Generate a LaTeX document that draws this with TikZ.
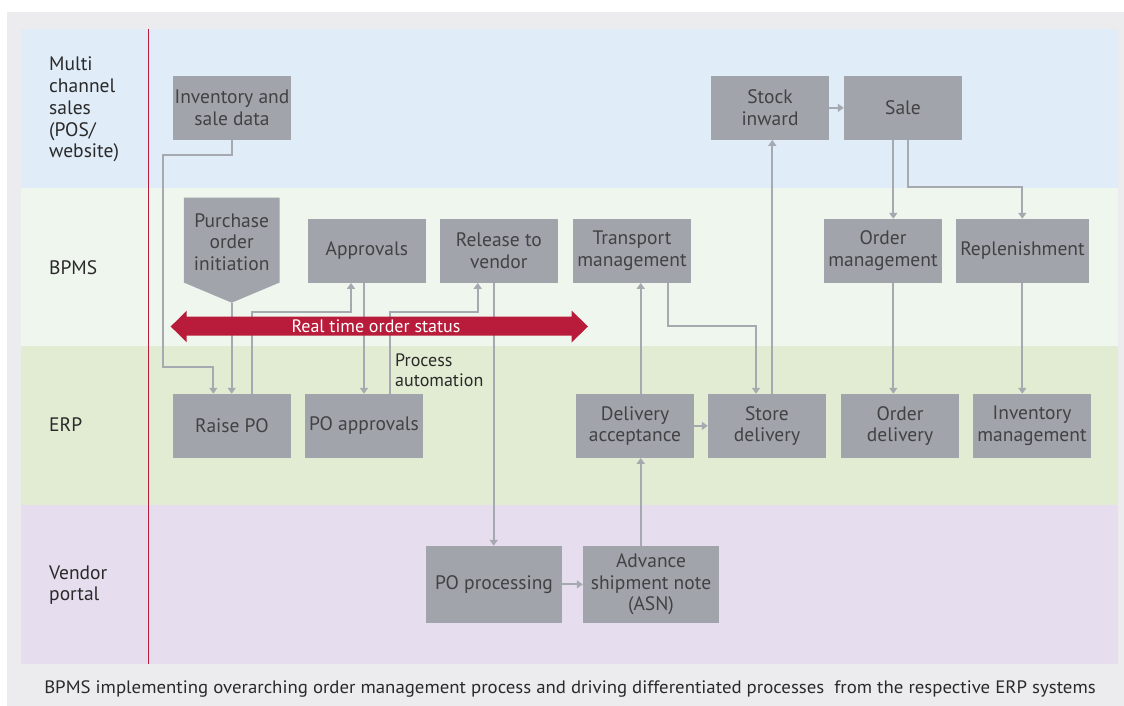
\documentclass[tikz,border=0pt]{standalone}
\usepackage{fontspec}
\setmainfont{PT Sans}
\usetikzlibrary{arrows.meta}
\definecolor{outergray}{HTML}{ECECEE}
\definecolor{laneblue}{HTML}{E0ECF8}
\definecolor{lanebpms}{HTML}{EFF6EE}
\definecolor{laneerp}{HTML}{E2ECD2}
\definecolor{lanevendor}{HTML}{E6DEEE}
\definecolor{boxgray}{HTML}{A1A4AA}
\definecolor{boxtext}{HTML}{424244}
\definecolor{conncol}{HTML}{A6A9AF}
\definecolor{redcol}{HTML}{B81C3A}
\definecolor{labeltext}{HTML}{2A2A2A}
\tikzset{
  procbox/.style={fill=boxgray, text=boxtext, inner sep=0pt, align=center,
    minimum width=118pt, minimum height=63.7pt,
    font=\fontsize{19.5}{21.5}\selectfont},
  conn/.style={draw=conncol, line width=1.8pt,
    -{Triangle[width=8pt,length=6pt]}},
  lanelabel/.style={anchor=west, align=left, text=labeltext, inner sep=0pt,
    font=\fontsize{19.5}{21.75}\selectfont},
}
\begin{document}
\begin{tikzpicture}[x=1pt,y=-1pt]
\useasboundingbox (0,0) rectangle (1124,706);
\fill[white] (0,0) rectangle (1124,706);
\fill[outergray] (7,12) rectangle (1124,706);
\fill[laneblue] (21,29) rectangle (1118,188);
\fill[lanebpms] (21,188) rectangle (1118,346);
\fill[laneerp] (21,346) rectangle (1118,505);
\fill[lanevendor] (21,505) rectangle (1118,664);
\draw[redcol, line width=1pt] (148.7,29) -- (148.7,664);

% lane labels
\node[lanelabel] (lmulti) at (49,109.5) {Multi\\channel\\sales\\(POS/\\website)};
\node[lanelabel] (lbpms) at (49,268) {BPMS};
\node[lanelabel] (lerp) at (49,425) {ERP};
\node[lanelabel] (lvendor) at (49,585) {Vendor\\portal};

% boxes
\node[procbox] (inv) at (232,107.85) {Inventory and\\sale data};
\node[procbox] (stock) at (770,107.85) {Stock\\inward};
\node[procbox] (sale) at (903,107.85) {Sale};

\coordinate (poitip) at (231.7,302.7);
\node[procbox, fill=none, minimum width=95.5pt, minimum height=84.6pt] (poi) at (231.7,240) {};
\fill[boxgray] (poi.north west) -- (poi.north east) -- (poi.south east) -- (poitip) -- (poi.south west) -- cycle;
\node[procbox, fill=none, minimum width=95.5pt, minimum height=84.6pt] (poitext) at (231.7,242) {Purchase\\order\\initiation};

\node[procbox] (appr) at (366.85,250.85) {Approvals};
\node[procbox] (rel) at (498.85,250.85) {Release to\\vendor};
\node[procbox] (trans) at (632,250.85) {Transport\\management};
\node[procbox] (ordm) at (883,250.85) {Order\\management};
\node[procbox, minimum width=133pt] (repl) at (1022.5,250.85) {Replenishment};

\node[procbox] (raise) at (231.85,425.85) {Raise PO};
\node[procbox] (poa) at (364,425.85) {PO approvals};
\node[procbox] (dacc) at (635,425.85) {Delivery\\acceptance};
\node[procbox] (sdel) at (767,425.85) {Store\\delivery};
\node[procbox] (odel) at (900,425.85) {Order\\delivery};
\node[procbox] (invm) at (1032,425.85) {Inventory\\management};

\node[procbox, minimum width=136pt, minimum height=76.7pt] (pop) at (494,584.35) {PO processing};
\node[procbox, minimum width=136pt, minimum height=76.7pt] (asn) at (651,584.35) {Advance\\shipment note\\(ASN)};

% connectors
\draw[conn] (inv.south) |- (162.7,154.7) |- (213.3,367.3) -- (213.3,0 |- raise.north);
\draw[conn] (poitip) -- (poitip |- raise.north);
\draw[conn] (251.7,0 |- raise.north) |- (351,312.3) -- (351,0 |- appr.south);
\draw[conn] (364,0 |- appr.south) -- (364,0 |- poa.north);
\draw[conn] (390,0 |- poa.north) |- (477.7,312.3) -- (477.7,0 |- rel.south);
\draw[conn] (493.7,0 |- rel.south) -- (493.7,0 |- pop.north);
\draw[conn] (640.7,0 |- asn.north) -- (640.7,0 |- dacc.south);
\draw[conn] (640.7,0 |- dacc.north) -- (640.7,0 |- trans.south);
\draw[conn] (667.7,0 |- trans.south) |- (756,326) -- (756,0 |- sdel.north);
\draw[conn] (dacc.east) -- (sdel.west);
\draw[conn] (772.3,0 |- sdel.north) -- (772.3,0 |- stock.south);
\draw[conn] (stock.east) -- (sale.west);
\draw[conn] (893.3,0 |- sale.south) -- (893.3,0 |- ordm.north);
\draw[conn] (907.7,0 |- sale.south) |- (1022.3,187.3) -- (1022.3,0 |- repl.north);
\draw[conn] (893.3,0 |- ordm.south) -- (893.3,0 |- odel.north);
\draw[conn] (1022.3,0 |- repl.south) -- (1022.3,0 |- invm.north);
\draw[conn] (pop.east) -- (asn.west);

% red double arrow
\fill[redcol] (170.7,326.5) -- (186.7,310.7) -- (186.7,316.7) -- (571.7,316.7) -- (571.7,310.7)
  -- (588,326.5) -- (571.7,342.3) -- (571.7,335.5) -- (186.7,335.5) -- (186.7,342.3) -- cycle;
\node[text=white, inner sep=0pt, font=\fontsize{18}{20}\selectfont] (rts) at (376,326) {Real time order status};

\node[anchor=west, align=left, inner sep=0pt, text=labeltext, font=\fontsize{18}{20}\selectfont] (pauto) at (395,370) {Process\\automation};

% caption
\node[inner sep=0pt, text=labeltext] (cap) at (570,689) {\scalebox{1.046}[1]{\fontsize{18}{20}\selectfont BPMS implementing overarching order management process and driving differentiated processes\ \ from the respective ERP systems}};
\end{tikzpicture}
\end{document}
